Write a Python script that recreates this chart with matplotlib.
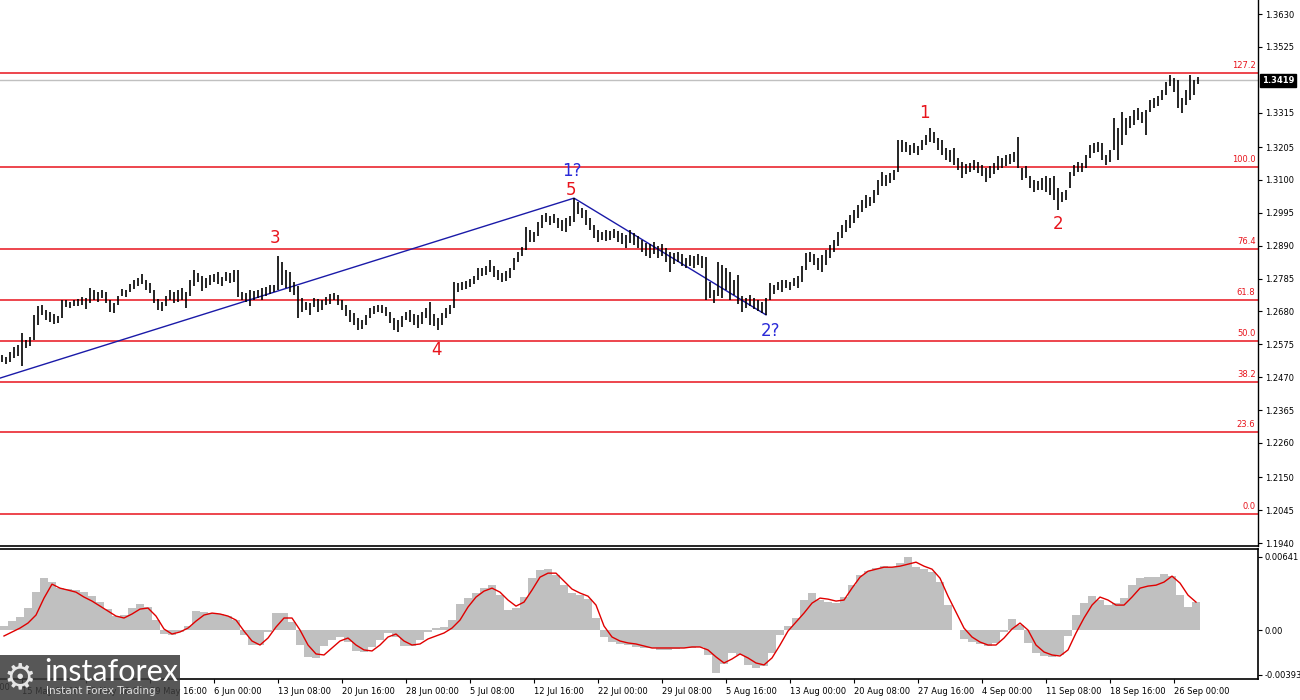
import matplotlib
matplotlib.use('Agg')
import matplotlib.pyplot as plt
import numpy as np
from matplotlib.patches import Rectangle

# ---- price bars (high / low of each bar) ----
highs = [
    1.2541, 1.2534, 1.2550, 1.2566, 1.2573, 1.2611, 1.2589, 1.2598, 1.2669, 1.2697,
    1.2700, 1.2684, 1.2678, 1.2672, 1.2665, 1.2716, 1.2716, 1.2710, 1.2716, 1.2720,
    1.2726, 1.2723, 1.2755, 1.2748, 1.2742, 1.2748, 1.2742, 1.2716, 1.2707, 1.2729,
    1.2752, 1.2748, 1.2768, 1.2780, 1.2787, 1.2800, 1.2780, 1.2771, 1.2748, 1.2720,
    1.2710, 1.2729, 1.2748, 1.2742, 1.2748, 1.2755, 1.2742, 1.2780, 1.2812, 1.2803,
    1.2793, 1.2787, 1.2796, 1.2800, 1.2806, 1.2790, 1.2806, 1.2803, 1.2812, 1.2812,
    1.2742, 1.2739, 1.2748, 1.2745, 1.2748, 1.2755, 1.2758, 1.2764, 1.2764, 1.2857,
    1.2838, 1.2812, 1.2806, 1.2774, 1.2761, 1.2723, 1.2710, 1.2707, 1.2723, 1.2720,
    1.2716, 1.2726, 1.2736, 1.2739, 1.2732, 1.2716, 1.2700, 1.2684, 1.2675, 1.2659,
    1.2653, 1.2669, 1.2691, 1.2697, 1.2700, 1.2700, 1.2694, 1.2678, 1.2659, 1.2653,
    1.2665, 1.2678, 1.2684, 1.2672, 1.2669, 1.2678, 1.2691, 1.2710, 1.2672, 1.2659,
    1.2675, 1.2691, 1.2700, 1.2774, 1.2771, 1.2774, 1.2777, 1.2784, 1.2793, 1.2819,
    1.2819, 1.2825, 1.2844, 1.2825, 1.2812, 1.2803, 1.2809, 1.2819, 1.2851, 1.2870,
    1.2886, 1.2950, 1.2940, 1.2933, 1.2965, 1.2988, 1.2994, 1.2985, 1.2991, 1.2978,
    1.2972, 1.2978, 1.2985, 1.3042, 1.3029, 1.3010, 1.3004, 1.2978, 1.2956, 1.2940,
    1.2933, 1.2940, 1.2937, 1.2943, 1.2937, 1.2930, 1.2924, 1.2940, 1.2930, 1.2921,
    1.2908, 1.2899, 1.2895, 1.2902, 1.2889, 1.2895, 1.2882, 1.2870, 1.2867, 1.2870,
    1.2863, 1.2851, 1.2860, 1.2857, 1.2863, 1.2857, 1.2854, 1.2774, 1.2748, 1.2838,
    1.2828, 1.2819, 1.2806, 1.2780, 1.2796, 1.2729, 1.2723, 1.2732, 1.2723, 1.2716,
    1.2710, 1.2723, 1.2771, 1.2764, 1.2774, 1.2780, 1.2780, 1.2774, 1.2787, 1.2793,
    1.2825, 1.2867, 1.2870, 1.2863, 1.2851, 1.2860, 1.2876, 1.2892, 1.2908, 1.2933,
    1.2956, 1.2972, 1.2988, 1.3004, 1.3020, 1.3036, 1.3052, 1.3045, 1.3068, 1.3100,
    1.3125, 1.3116, 1.3122, 1.3132, 1.3227, 1.3227, 1.3221, 1.3211, 1.3218, 1.3208,
    1.3227, 1.3243, 1.3266, 1.3253, 1.3234, 1.3227, 1.3202, 1.3195, 1.3202, 1.3170,
    1.3157, 1.3151, 1.3154, 1.3164, 1.3157, 1.3148, 1.3138, 1.3145, 1.3154, 1.3176,
    1.3170, 1.3179, 1.3183, 1.3189, 1.3237, 1.3138, 1.3145, 1.3113, 1.3100, 1.3097,
    1.3106, 1.3113, 1.3106, 1.3113, 1.3074, 1.3061, 1.3068, 1.3125, 1.3148, 1.3157,
    1.3154, 1.3179, 1.3211, 1.3218, 1.3221, 1.3218, 1.3179, 1.3195, 1.3298, 1.3266,
    1.3317, 1.3298, 1.3304, 1.3323, 1.3330, 1.3317, 1.3323, 1.3355, 1.3362, 1.3368,
    1.3387, 1.3413, 1.3435, 1.3426, 1.3419, 1.3362, 1.3387, 1.3435, 1.3419, 1.3429,
]
lows = [
    1.2518, 1.2512, 1.2518, 1.2531, 1.2538, 1.2506, 1.2563, 1.2570, 1.2589, 1.2637,
    1.2669, 1.2653, 1.2646, 1.2640, 1.2643, 1.2659, 1.2694, 1.2691, 1.2697, 1.2697,
    1.2700, 1.2688, 1.2707, 1.2716, 1.2710, 1.2723, 1.2707, 1.2678, 1.2675, 1.2700,
    1.2729, 1.2726, 1.2742, 1.2752, 1.2761, 1.2768, 1.2748, 1.2739, 1.2707, 1.2684,
    1.2681, 1.2697, 1.2716, 1.2707, 1.2710, 1.2716, 1.2691, 1.2729, 1.2761, 1.2774,
    1.2745, 1.2755, 1.2764, 1.2774, 1.2768, 1.2761, 1.2777, 1.2771, 1.2774, 1.2726,
    1.2716, 1.2710, 1.2697, 1.2716, 1.2723, 1.2716, 1.2729, 1.2736, 1.2742, 1.2748,
    1.2764, 1.2755, 1.2742, 1.2732, 1.2659, 1.2678, 1.2684, 1.2669, 1.2694, 1.2678,
    1.2684, 1.2700, 1.2704, 1.2716, 1.2700, 1.2684, 1.2665, 1.2646, 1.2637, 1.2621,
    1.2624, 1.2637, 1.2659, 1.2672, 1.2678, 1.2675, 1.2665, 1.2643, 1.2621, 1.2614,
    1.2630, 1.2653, 1.2646, 1.2637, 1.2627, 1.2640, 1.2659, 1.2637, 1.2633, 1.2621,
    1.2637, 1.2659, 1.2672, 1.2691, 1.2742, 1.2748, 1.2752, 1.2758, 1.2768, 1.2780,
    1.2793, 1.2796, 1.2806, 1.2790, 1.2780, 1.2774, 1.2777, 1.2787, 1.2812, 1.2838,
    1.2857, 1.2876, 1.2902, 1.2902, 1.2921, 1.2946, 1.2965, 1.2956, 1.2962, 1.2946,
    1.2937, 1.2933, 1.2953, 1.2965, 1.2991, 1.2978, 1.2956, 1.2940, 1.2914, 1.2902,
    1.2908, 1.2905, 1.2908, 1.2914, 1.2902, 1.2895, 1.2882, 1.2899, 1.2892, 1.2882,
    1.2870, 1.2857, 1.2851, 1.2863, 1.2851, 1.2857, 1.2838, 1.2806, 1.2831, 1.2838,
    1.2825, 1.2819, 1.2825, 1.2819, 1.2828, 1.2819, 1.2716, 1.2723, 1.2707, 1.2729,
    1.2723, 1.2748, 1.2716, 1.2732, 1.2704, 1.2678, 1.2691, 1.2697, 1.2688, 1.2681,
    1.2675, 1.2669, 1.2716, 1.2736, 1.2748, 1.2742, 1.2755, 1.2748, 1.2761, 1.2755,
    1.2774, 1.2812, 1.2838, 1.2828, 1.2812, 1.2806, 1.2828, 1.2851, 1.2870, 1.2889,
    1.2914, 1.2933, 1.2946, 1.2962, 1.2978, 1.2997, 1.3010, 1.3017, 1.3026, 1.3052,
    1.3081, 1.3081, 1.3090, 1.3100, 1.3125, 1.3189, 1.3189, 1.3179, 1.3186, 1.3179,
    1.3195, 1.3211, 1.3221, 1.3218, 1.3195, 1.3179, 1.3164, 1.3157, 1.3148, 1.3132,
    1.3106, 1.3119, 1.3125, 1.3132, 1.3122, 1.3113, 1.3093, 1.3106, 1.3119, 1.3132,
    1.3138, 1.3145, 1.3151, 1.3157, 1.3138, 1.3100, 1.3106, 1.3074, 1.3061, 1.3068,
    1.3068, 1.3061, 1.3052, 1.3036, 1.3004, 1.3029, 1.3036, 1.3074, 1.3113, 1.3125,
    1.3125, 1.3138, 1.3170, 1.3186, 1.3189, 1.3164, 1.3148, 1.3157, 1.3195, 1.3164,
    1.3211, 1.3243, 1.3266, 1.3275, 1.3291, 1.3282, 1.3243, 1.3317, 1.3330, 1.3336,
    1.3355, 1.3371, 1.3400, 1.3381, 1.3330, 1.3314, 1.3339, 1.3355, 1.3371, 1.3407,
]
last_price = 1.3419

# fibonacci grid
fib_names = ['0.0', '23.6', '38.2', '50.0', '61.8', '76.4', '100.0', '127.2']
fib_prices = [1.2033, 1.2294, 1.2456, 1.2587, 1.2718, 1.2880, 1.3141, 1.3442]

# wave trend line: start price off the left edge, then bar 143 high, bar 191 low
trend_start = 1.2467
trend_bars = [143, 191]

# wave labels (bar index, price, text, colour)
wave_x = [68.2, 108.7, 142.2, 230.5, 264.0, 142.5, 192.0]
wave_y = [1.2915, 1.2557, 1.3068, 1.3314, 1.2959, 1.3129, 1.2617]
wave_txt = ['3', '4', '5', '1', '2', '1?', '2?']
wave_col = ['red', 'red', 'red', 'red', 'red', 'blue', 'blue']

price_ticks = [1.3630, 1.3525, 1.3315, 1.3205, 1.3100, 1.2995, 1.2890, 1.2785,
               1.2680, 1.2575, 1.2470, 1.2365, 1.2260, 1.2150, 1.2045, 1.1940]

# ---- MACD (one value per two bars) ----
macd_hist = [
    0.00035, 0.00078, 0.00113, 0.00192, 0.00331, 0.00453, 0.00419, 0.00366, 0.00358, 0.00349,
    0.00331, 0.00296, 0.00244, 0.00183, 0.00122, 0.00131, 0.00192, 0.00227, 0.00201, 0.00087,
    -0.00035, -0.00044, -0.00017, 0.00035, 0.00166, 0.00157, 0.00148, 0.00140, 0.00122, 0.00087,
    -0.00044, -0.00131, -0.00131, -0.00017, 0.00148, 0.00148, 0.00070, -0.00131, -0.00235, -0.00244,
    -0.00140, -0.00087, -0.00061, -0.00105, -0.00183, -0.00192, -0.00148, -0.00087, -0.00026, -0.00061,
    -0.00140, -0.00140, -0.00087, -0.00017, 0.00017, 0.00026, 0.00087, 0.00227, 0.00279, 0.00323,
    0.00366, 0.00392, 0.00305, 0.00174, 0.00192, 0.00288, 0.00453, 0.00523, 0.00532, 0.00480,
    0.00392, 0.00323, 0.00305, 0.00270, 0.00105, -0.00061, -0.00105, -0.00122, -0.00131, -0.00148,
    -0.00157, -0.00157, -0.00174, -0.00174, -0.00166, -0.00157, -0.00157, -0.00148, -0.00218, -0.00375,
    -0.00296, -0.00201, -0.00218, -0.00305, -0.00331, -0.00314, -0.00201, -0.00044, 0.00035, 0.00105,
    0.00262, 0.00323, 0.00262, 0.00244, 0.00235, 0.00288, 0.00392, 0.00480, 0.00514, 0.00541,
    0.00558, 0.00549, 0.00584, 0.00637, 0.00549, 0.00532, 0.00506, 0.00419, 0.00218, 0.00000,
    -0.00078, -0.00105, -0.00122, -0.00140, -0.00113, -0.00017, 0.00096, 0.00044, -0.00113, -0.00201,
    -0.00227, -0.00235, -0.00218, -0.00052, 0.00131, 0.00235, 0.00296, 0.00262, 0.00218, 0.00235,
    0.00279, 0.00392, 0.00453, 0.00462, 0.00462, 0.00488, 0.00471, 0.00305, 0.00201, 0.00244,
]
macd_signal = [
    -0.00052, -0.00017, 0.00017, 0.00061, 0.00131, 0.00279, 0.00401, 0.00366, 0.00349, 0.00331,
    0.00288, 0.00253, 0.00209, 0.00166, 0.00122, 0.00105, 0.00140, 0.00183, 0.00192, 0.00122,
    0.00009, -0.00035, -0.00017, 0.00017, 0.00078, 0.00131, 0.00148, 0.00140, 0.00122, 0.00087,
    -0.00009, -0.00096, -0.00131, -0.00070, 0.00026, 0.00105, 0.00105, 0.00000, -0.00131, -0.00209,
    -0.00218, -0.00157, -0.00096, -0.00070, -0.00131, -0.00174, -0.00183, -0.00131, -0.00061, -0.00035,
    -0.00096, -0.00131, -0.00122, -0.00078, -0.00052, -0.00026, 0.00017, 0.00087, 0.00201, 0.00288,
    0.00340, 0.00366, 0.00331, 0.00262, 0.00209, 0.00244, 0.00349, 0.00462, 0.00497, 0.00497,
    0.00427, 0.00358, 0.00323, 0.00296, 0.00218, 0.00035, -0.00061, -0.00096, -0.00113, -0.00122,
    -0.00140, -0.00157, -0.00157, -0.00157, -0.00157, -0.00157, -0.00148, -0.00148, -0.00174, -0.00235,
    -0.00288, -0.00253, -0.00209, -0.00244, -0.00288, -0.00305, -0.00244, -0.00131, -0.00009, 0.00070,
    0.00148, 0.00235, 0.00279, 0.00270, 0.00253, 0.00262, 0.00366, 0.00462, 0.00514, 0.00532,
    0.00549, 0.00549, 0.00558, 0.00576, 0.00593, 0.00558, 0.00532, 0.00453, 0.00296, 0.00157,
    0.00017, -0.00061, -0.00105, -0.00131, -0.00131, -0.00070, 0.00009, 0.00061, 0.00000, -0.00131,
    -0.00192, -0.00218, -0.00227, -0.00174, -0.00026, 0.00105, 0.00218, 0.00288, 0.00262, 0.00218,
    0.00218, 0.00288, 0.00366, 0.00384, 0.00392, 0.00419, 0.00471, 0.00410, 0.00305, 0.00244,
]
macd_ticks = [0.00641, 0.0, -0.00393]
macd_tick_labels = ['0.00641', '0.00', '-0.00393']

# time axis labels (every 16 bars); the first one sits partly off the left edge
date_labels = ['7 May 16:00', '15 May 00:00', '22 May 08:00', '29 May 16:00', '6 Jun 00:00',
               '13 Jun 08:00', '20 Jun 16:00', '28 Jun 00:00', '5 Jul 08:00', '12 Jul 16:00',
               '22 Jul 00:00', '29 Jul 08:00', '5 Aug 16:00', '13 Aug 00:00', '20 Aug 08:00',
               '27 Aug 16:00', '4 Sep 00:00', '11 Sep 08:00', '18 Sep 16:00', '26 Sep 00:00']
date_bars = [-11, 5, 21, 37, 53, 69, 85, 101, 117, 133, 149, 165, 181, 197, 213, 229, 245, 261, 277, 293]

FIB_RED = '#e8141c'
SMALL = 6.0
X0, X1 = -0.5, 314

fig = plt.figure(figsize=(13, 7), dpi=100)
ax = fig.add_axes([0.0, 0.2193, 0.9677, 0.7807])
ax2 = fig.add_axes([0.0, 0.03, 0.9677, 0.1857])

bars = np.arange(len(highs))

# fib levels
for name, p in zip(fib_names, fib_prices):
    ax.axhline(p, color=FIB_RED, lw=1.1, zorder=1)
    ax.annotate(name, xy=(0.998, p), xycoords=ax.get_yaxis_transform(),
                xytext=(0, 2), textcoords='offset points', ha='right', va='bottom',
                fontsize=SMALL, color=FIB_RED)

ax.axhline(last_price, color='#c0c0c0', lw=1, zorder=1)

ax.vlines(bars, lows, highs, color='black', lw=1.2, zorder=3)

# wave lines
tx = [X0] + trend_bars
ty = [trend_start, highs[trend_bars[0]], lows[trend_bars[1]]]
ax.plot(tx, ty, color='#1a1aa8', lw=1, zorder=2)

for x, y, t, c in zip(wave_x, wave_y, wave_txt, wave_col):
    col = '#e8141c' if c == 'red' else '#2a2ad8'
    ax.text(x, y, t, color=col, fontsize=12, ha='center', va='center', zorder=4)

ax.yaxis.tick_right()
ax.set_yticks(price_ticks)
ax.set_yticklabels(['%.4f' % v for v in price_ticks])
ax.tick_params(axis='y', direction='out', length=3, labelsize=SMALL, pad=2, width=0.8)
ax.set_xticks([])
ax.set_xlim(X0, X1)
ax.set_ylim(1.1929, 1.3675)
for s in ['top', 'left']:
    ax.spines[s].set_visible(False)
ax.spines['right'].set_linewidth(1)
ax.spines['bottom'].set_linewidth(1.2)

ax.text(1.003, last_price, '%.4f' % last_price, transform=ax.get_yaxis_transform(),
        color='white', fontsize=SMALL, va='center', ha='left', fontweight='bold',
        bbox=dict(boxstyle='square,pad=0.25', fc='black', ec='black'), clip_on=False)

# MACD panel
mx = np.arange(len(macd_hist)) * 2 + 0.5
ax2.bar(mx, macd_hist, width=2.0, color='#c0c0c0', linewidth=0)
ax2.plot(mx, macd_signal, color='#e00000', lw=1)
ax2.yaxis.tick_right()
ax2.set_yticks(macd_ticks)
ax2.set_yticklabels(macd_tick_labels)
ax2.tick_params(axis='y', direction='out', length=3, labelsize=SMALL, pad=1.5, width=0.8)
ax2.set_xticks(date_bars[1:])
ax2.set_xticklabels(date_labels[1:], ha='left')
ax2.tick_params(axis='x', direction='out', length=3, labelsize=SMALL, pad=3, width=0.8)
# partial label cut by the left edge
ax2.annotate(date_labels[0], xy=(date_bars[0], 0), xycoords=('data', 'axes fraction'),
             xytext=(0, -3), textcoords='offset points', ha='left', va='top',
             fontsize=SMALL, annotation_clip=False)
ax2.set_xlim(X0, X1)
ax2.set_ylim(-0.00428, 0.00708)
ax2.spines['left'].set_visible(False)
for s in ['top', 'right', 'bottom']:
    ax2.spines[s].set_linewidth(1.2)

# logo
fig.patches.append(Rectangle((0, 0), 180 / 1300, 45 / 700, transform=fig.transFigure,
                             facecolor='#3a3a3a', alpha=0.85, zorder=20))
fig.text(4 / 1300, 1 - 678 / 700, '\u2699', color='#e6e6e6', fontsize=26,
         va='center', ha='left', zorder=21)
fig.text(44 / 1300, 1 - 672 / 700, 'instaforex', color='white', fontsize=22,
         family='Lato', va='center', ha='left', zorder=21)
fig.text(46 / 1300, 1 - 691 / 700, 'Instant Forex Trading', color='#e0e0e0', fontsize=7.5,
         va='center', ha='left', zorder=21)

fig.savefig('out.png', dpi=100, facecolor='white')
